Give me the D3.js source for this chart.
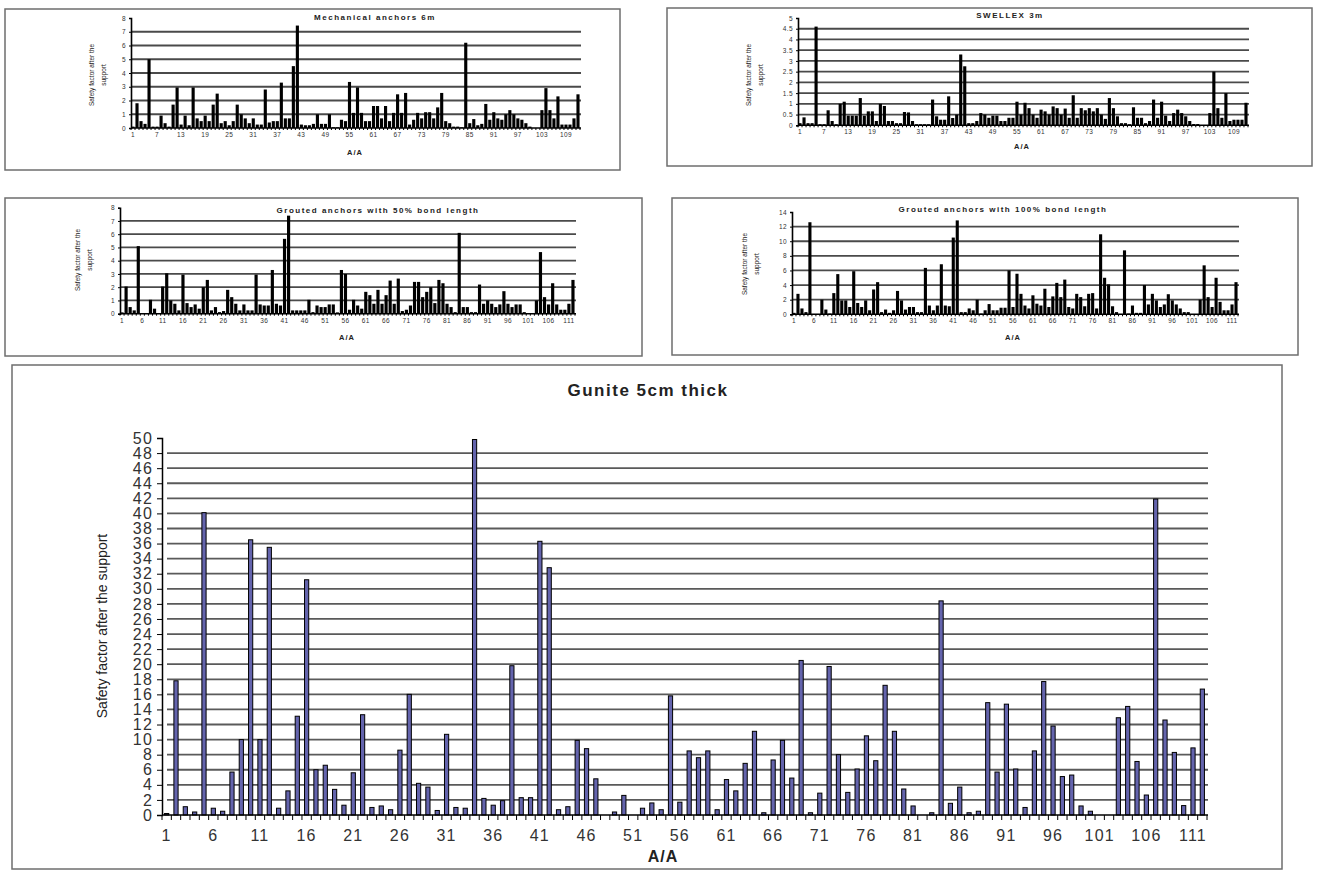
<!DOCTYPE html>
<html lang="en">
<head>
<meta charset="UTF-8">
<title>Safety factor after the support</title>
<script src="https://d3js.org/d3.v7.min.js"></script>
<style>
  body { margin: 0; background: #fff; }
  text { font-family: "Liberation Sans", Arial, sans-serif; }
</style>
</head>
<body>
<svg width="1317" height="870"></svg>
<script>
// categories A/A 1..112
var cats = d3.range(1, 113);

var mechanical = [0.1,1.8,0.5,0.3,5.0,0.1,0.1,0.9,0.35,0.1,
  1.7,2.95,0.25,0.9,0.2,2.95,0.7,0.5,0.9,0.5,
  1.7,2.5,0.35,0.5,0.2,0.5,1.7,1.0,0.7,0.35,
  0.7,0.25,0.25,2.8,0.4,0.5,0.5,3.3,0.7,0.7,
  4.5,7.45,0.25,0.2,0.2,0.3,1.0,0.3,0.3,1.0,
  0.05,0.05,0.6,0.5,3.35,1.1,2.95,1.1,0.5,0.5,
  1.6,1.6,0.7,1.6,0.5,1.1,2.45,1.1,2.55,0.25,
  0.6,1.1,0.7,1.15,1.15,0.7,1.5,2.55,0.5,0.35,
  0.1,0.1,0.05,6.2,0.35,0.65,0.2,0.3,1.75,0.6,
  1.15,0.7,0.6,1.0,1.3,1.0,0.7,0.6,0.35,0.1,
  0,0,1.3,2.9,1.3,0.7,2.3,0.25,0.25,0.25,
  0.7,2.45];

var swellex = [0.1,0.37,0.1,0.1,4.6,0.05,0.05,0.7,0.2,0.05,
  1.0,1.1,0.45,0.45,0.45,1.27,0.45,0.65,0.65,0.2,
  1.0,0.9,0.2,0.2,0.1,0.1,0.62,0.6,0.2,0.05,
  0.05,0.05,0.05,1.2,0.42,0.26,0.26,1.35,0.34,0.5,
  3.3,2.75,0.1,0.1,0.2,0.57,0.5,0.35,0.45,0.45,
  0.2,0.2,0.35,0.35,1.1,0.5,1.05,0.8,0.5,0.35,
  0.73,0.65,0.5,0.88,0.8,0.5,0.78,0.35,1.4,0.35,
  0.8,0.7,0.8,0.65,0.8,0.5,0.3,1.27,0.8,0.42,
  0.1,0.1,0.05,0.84,0.35,0.35,0.1,0.2,1.2,0.35,
  1.1,0.45,0.2,0.57,0.73,0.57,0.42,0.2,0.06,0.06,
  0,0,0.57,2.5,0.8,0.35,1.5,0.2,0.26,0.26,
  0.26,1.05];

var grouted50 = [0.1,2.05,0.5,0.25,5.1,0.05,0.05,1.05,0.38,0.05,
  2.05,3.05,1.0,0.75,0.25,2.95,0.8,0.5,0.7,0.38,
  2.0,2.55,0.25,0.5,0.12,0.2,1.8,1.25,0.75,0.25,
  0.7,0.25,0.25,2.95,0.7,0.62,0.62,3.3,0.75,0.62,
  5.65,7.4,0.25,0.25,0.25,0.25,1.05,0.12,0.62,0.5,
  0.5,0.7,0.7,0.1,3.3,3.0,0.3,1.05,0.62,0.38,
  1.65,1.4,0.75,1.8,0.75,1.4,2.5,0.75,2.65,0.2,
  0.3,0.62,2.4,2.4,1.25,1.65,2.0,0.8,2.55,2.3,
  0.75,0.5,0.12,6.1,0.5,0.5,0.12,0.12,2.2,0.75,
  1.0,0.75,0.5,0.7,1.7,0.75,0.5,0.7,0.7,0.12,
  0.05,0.05,1.0,4.65,1.25,0.7,2.3,0.7,0.3,0.3,
  0.75,2.55];

var grouted100 = [0.2,2.8,0.8,0.3,12.6,0.05,0.05,2.0,0.65,0.1,
  2.9,5.5,1.9,1.9,1.0,5.9,1.55,1.0,1.9,0.55,
  3.4,4.4,0.3,0.65,0.2,0.55,3.2,1.9,0.65,1.0,
  1.0,0.3,0.3,6.35,1.2,0.55,1.2,6.85,1.2,1.1,
  10.5,12.85,0.3,0.3,0.8,0.55,2.0,0.1,0.55,1.4,
  0.55,0.55,0.9,0.9,6.0,1.0,5.55,2.8,1.2,0.8,
  2.6,1.45,1.2,3.5,1.0,2.45,4.3,2.35,4.75,1.0,
  0.8,2.8,2.35,1.1,2.8,2.9,0.8,10.95,5.0,4.1,
  1.1,0.3,0.05,8.75,0.1,1.2,0.2,0.2,4.0,1.35,
  2.8,1.9,1.0,1.35,2.75,1.9,1.35,0.8,0.3,0.3,
  0,0,2.0,6.7,2.35,1.0,5.0,1.7,0.55,0.55,
  1.35,4.4];

var gunite = [0.2,17.8,1.1,0.4,40.1,0.9,0.5,5.7,10,36.5,
  10,35.5,0.9,3.2,13.1,31.2,6.0,6.6,3.4,1.3,
  5.6,13.3,1.0,1.2,0.7,8.6,16,4.2,3.7,0.6,
  10.7,1.0,0.9,49.8,2.2,1.3,1.9,19.8,2.3,2.3,
  36.3,32.8,0.7,1.1,9.9,8.8,4.8,0,0.4,2.6,
  0,0.9,1.6,0.7,15.8,1.7,8.5,7.6,8.5,0.7,
  4.7,3.2,6.85,11.1,0.3,7.3,9.9,4.9,20.5,0.3,
  2.9,19.7,8.0,3.0,6.1,10.5,7.2,17.2,11.1,3.45,
  1.2,0,0.3,28.4,1.55,3.7,0.3,0.5,14.9,5.7,
  14.7,6.1,1.0,8.5,17.7,11.8,5.1,5.3,1.2,0.5,
  0,0,12.9,14.4,7.1,2.65,41.9,12.6,8.3,1.25,
  8.9,16.7];

// tick labels
var labelsEvery6 = d3.range(1, 113, 6);   // 1, 7, 13 ... 109
var labelsEvery5 = d3.range(1, 113, 5);   // 1, 6, 11 ... 111

var svg = d3.select("svg");

function drawPanel(o) {
    var g = svg.append("g");

    // frame
    g.append("rect")
        .attr("x", o.frame[0]).attr("y", o.frame[1])
        .attr("width", o.frame[2] - o.frame[0]).attr("height", o.frame[3] - o.frame[1])
        .attr("fill", "#fff").attr("stroke", "#6e6e6e").attr("stroke-width", 1.5);

    var x = d3.scaleBand().domain(cats).range([o.x0, o.x1])
        .paddingInner(o.pad).paddingOuter(o.pad / 2);
    var y = d3.scaleLinear().domain([0, o.yMax]).range([o.y0, o.y1]);
    var step = x.step();

    // horizontal gridlines
    g.selectAll(".grid").data(o.grid).join("line")
        .attr("x1", o.x0 + o.gridInset).attr("x2", o.x1 + 1)
        .attr("y1", d => y(d)).attr("y2", d => y(d))
        .attr("stroke", o.gridColor).attr("stroke-width", o.gridWidth);

    // bars
    g.selectAll(".bar").data(o.values).join("rect")
        .attr("x", (d, i) => x(cats[i]))
        .attr("width", x.bandwidth())
        .attr("y", d => y(d))
        .attr("height", d => y(0) - y(d))
        .attr("fill", o.barFill)
        .attr("stroke", o.barStroke)
        .attr("stroke-width", o.barStrokeWidth);

    // y axis
    var yAxis = g.append("g")
        .attr("transform", `translate(${o.x0},0)`)
        .call(d3.axisLeft(y).tickValues(o.yTicks).tickSize(o.tickLen).tickPadding(o.tickPad)
            .tickFormat(o.yFormat || d3.format("")));
    yAxis.select(".domain").attr("stroke", "#000").attr("stroke-width", o.axisWidth);
    yAxis.selectAll(".tick line").attr("stroke", "#000");
    yAxis.selectAll("text").attr("font-size", o.tickFont).attr("fill", "#333")
        .attr("letter-spacing", o.tickSpacing);

    // x axis line and small ticks at band edges
    g.append("line")
        .attr("x1", o.x0).attr("x2", o.x1 + 1).attr("y1", y(0)).attr("y2", y(0))
        .attr("stroke", "#000").attr("stroke-width", o.axisWidth);
    g.selectAll(".xtick").data(cats.concat([113])).join("line")
        .attr("x1", d => o.x0 + (d - 1) * step).attr("x2", d => o.x0 + (d - 1) * step)
        .attr("y1", y(0)).attr("y2", y(0) + o.tickLen)
        .attr("stroke", "#000").attr("stroke-width", 1);

    g.selectAll(".xlab").data(o.xLabels).join("text")
        .attr("x", d => x(d) + x.bandwidth() / 2)
        .attr("y", y(0) + o.xLabelDy)
        .attr("text-anchor", "middle")
        .attr("font-size", o.tickFont).attr("fill", "#333")
        .attr("letter-spacing", o.tickSpacing)
        .text(d => d);

    // title
    g.append("text")
        .attr("x", o.title[0]).attr("y", o.title[1])
        .attr("text-anchor", "middle")
        .attr("font-size", o.titleFont).attr("font-weight", "bold")
        .attr("letter-spacing", o.titleSpacing)
        .attr("fill", "#222")
        .text(o.titleText);

    // y axis title
    var yt = g.append("text")
        .attr("transform", `translate(${o.yTitle[0]},${o.yTitle[1]}) rotate(-90)`)
        .attr("text-anchor", "middle")
        .attr("font-size", o.yTitleFont).attr("fill", "#222");
    o.yTitleLines.forEach(function(line, i) {
        yt.append("tspan").attr("x", 0)
            .attr("y", (i - (o.yTitleLines.length - 1) / 2) * o.yTitleFont * 1.8)
            .attr("dominant-baseline", "middle")
            .text(line);
    });

    // x axis title
    g.append("text")
        .attr("x", o.xTitle[0]).attr("y", o.xTitle[1])
        .attr("text-anchor", "middle")
        .attr("font-size", o.xTitleFont).attr("font-weight", "bold")
        .attr("letter-spacing", o.xTitleSpacing)
        .attr("fill", "#222")
        .text("A/A");
}

var small = {
    pad: 0.22, gridInset: 0, gridColor: "#4a4a4a", gridWidth: 1.8,
    barFill: "#000", barStroke: "none", barStrokeWidth: 0,
    tickLen: 2, tickPad: 3, axisWidth: 1.6, tickFont: 6.5, tickSpacing: 0.4,
    xLabelDy: 9, titleFont: 8, titleSpacing: 1.5,
    yTitleFont: 6.5, yTitleLines: ["Safety factor after the", "support"],
    xTitleFont: 7.5, xTitleSpacing: 1
};

drawPanel(Object.assign({}, small, {
    frame: [5, 9, 620, 170], x0: 131, x1: 580, y0: 128, y1: 18, yMax: 8,
    yTicks: d3.range(0, 9), grid: d3.range(1, 8), xLabels: labelsEvery6,
    values: mechanical, titleText: "Mechanical anchors 6m", title: [375, 20],
    yTitle: [98, 75], xTitle: [355, 155]
}));

drawPanel(Object.assign({}, small, {
    frame: [667, 8, 1312, 166], x0: 798, x1: 1248, y0: 125.3, y1: 18, yMax: 5,
    yTicks: d3.range(0, 5.01, 0.5), grid: d3.range(0.5, 4.6, 0.5), xLabels: labelsEvery6,
    yFormat: d3.format(""),
    values: swellex, titleText: "SWELLEX 3m", title: [1010, 18],
    yTitle: [755, 75], xTitle: [1022, 149]
}));

drawPanel(Object.assign({}, small, {
    frame: [5, 198, 642, 356], x0: 120, x1: 575, y0: 313.7, y1: 207.7, yMax: 8,
    yTicks: d3.range(0, 9), grid: d3.range(1, 8), xLabels: labelsEvery5,
    values: grouted50, titleText: "Grouted anchors with 50% bond length", title: [378, 213],
    yTitle: [84, 260], xTitle: [347, 340]
}));

drawPanel(Object.assign({}, small, {
    frame: [672, 198, 1298, 355], x0: 792, x1: 1238, y0: 314.3, y1: 212, yMax: 14,
    yTicks: d3.range(0, 15, 2), grid: d3.range(2, 13, 2), xLabels: labelsEvery5,
    values: grouted100, titleText: "Grouted anchors with 100% bond length", title: [1003, 212],
    yTitle: [751, 264], xTitle: [1013, 340]
}));

drawPanel({
    frame: [12, 365, 1282, 869], x0: 162, x1: 1207, y0: 815, y1: 438, yMax: 50,
    pad: 0.55, gridInset: 5, gridColor: "#5a5a5a", gridWidth: 1.8,
    barFill: "#6464ad", barStroke: "#000", barStrokeWidth: 1,
    yTicks: d3.range(0, 51, 2), grid: d3.range(2, 49, 2), xLabels: labelsEvery5,
    tickLen: 5, tickPad: 4, axisWidth: 1.5, tickFont: 16, tickSpacing: 1.2,
    xLabelDy: 26, values: gunite,
    titleText: "Gunite 5cm thick", title: [648, 396], titleFont: 17, titleSpacing: 1.5,
    yTitle: [103, 626], yTitleFont: 14, yTitleLines: ["Safety factor after the support"],
    xTitle: [663, 862], xTitleFont: 16, xTitleSpacing: 1
});
</script>
</body>
</html>
